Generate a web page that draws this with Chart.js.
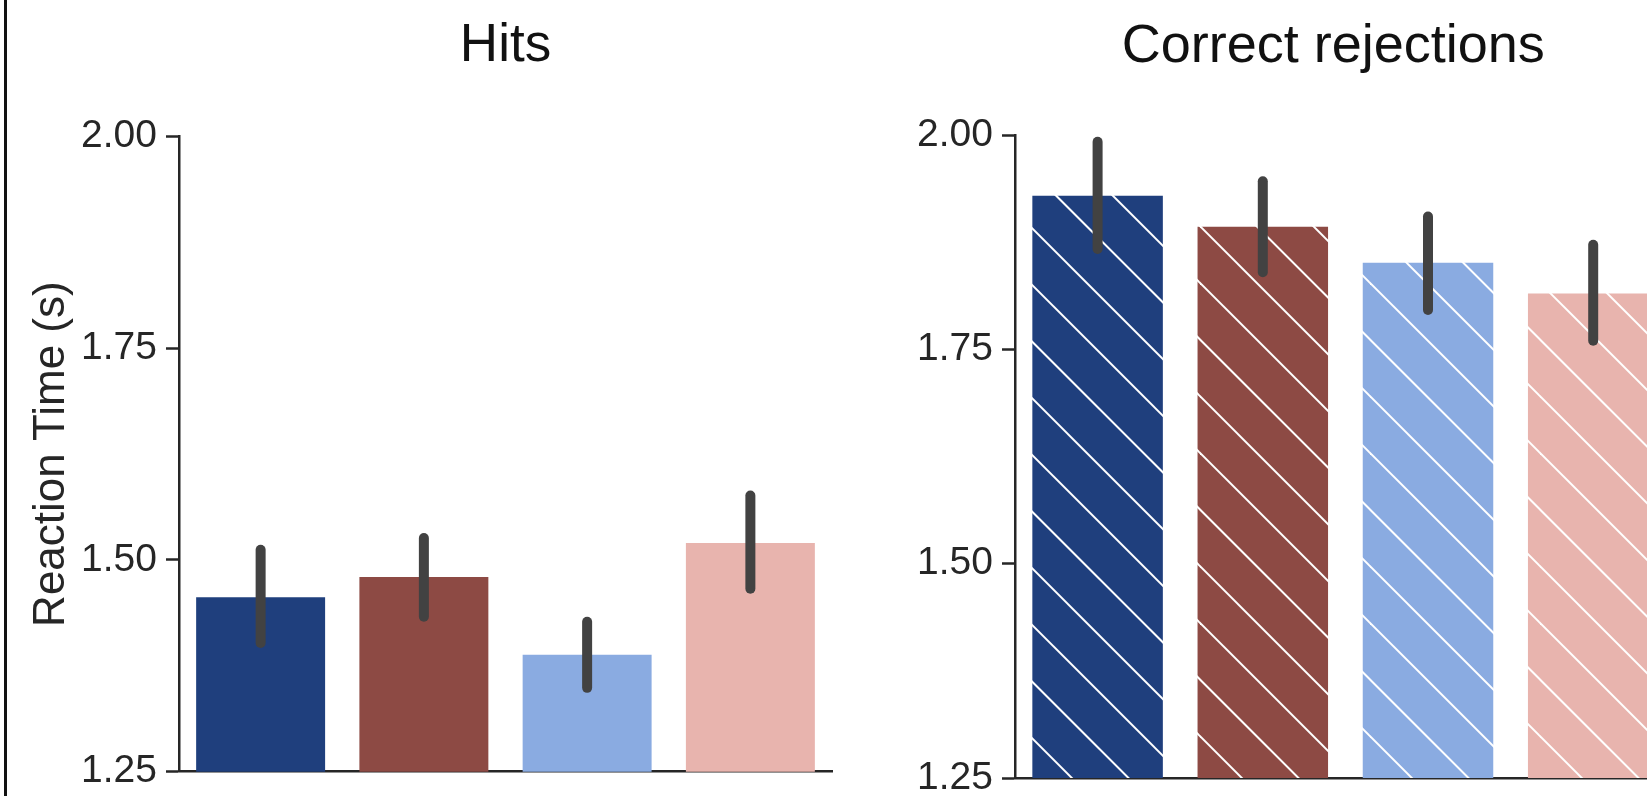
<!DOCTYPE html>
<html>
<head>
<meta charset="utf-8">
<script src="https://cdn.jsdelivr.net/npm/chart.js@4/dist/chart.umd.min.js"></script>
<style>
  html, body { margin: 0; padding: 0; background: #fff; overflow: hidden; width: 1647px; height: 796px; }
  #frame { position: absolute; left: 4px; top: 0; width: 3px; height: 796px; background: #111; }
  #hits { position: absolute; left: 0; top: 0; }
  #cr { position: absolute; left: 860px; top: 0; }
</style>
</head>
<body>
<div id="frame"></div>
<canvas id="hits" width="860" height="840"></canvas>
<canvas id="cr" width="960" height="840"></canvas>
<script>
// ---- data ----
const conditions = ['Condition 1', 'Condition 2', 'Condition 3', 'Condition 4'];
const barColors = ['#1f3f7d', '#8d4a44', '#8aabe1', '#e8b4ae'];
const yTicks = [1.25, 1.50, 1.75, 2.00];

// Hits: mean reaction time and error-bar bounds (s)
const hitsRT = [1.456, 1.480, 1.388, 1.520];
const hitsLo = [1.402, 1.433, 1.349, 1.466];
const hitsHi = [1.512, 1.526, 1.427, 1.576];

// Correct rejections: mean reaction time and error-bar bounds (s)
const crRT = [1.929, 1.893, 1.851, 1.815];
const crLo = [1.867, 1.840, 1.796, 1.760];
const crHi = [1.992, 1.946, 1.905, 1.872];

// ---- styling ----
const FONT = "'Liberation Sans', Arial, Helvetica, sans-serif";
const INK = '#262626';
const HATCH_PERIOD = 170 / 3;

// Diagonal "\\" hatch fill, phase-locked to page coordinates
function hatchFill(color, canvasLeft) {
  const tile = document.createElement('canvas');
  tile.width = tile.height = 170;
  const t = tile.getContext('2d');
  t.fillStyle = color;
  t.fillRect(0, 0, 170, 170);
  t.strokeStyle = '#ffffff';
  t.lineWidth = 2;
  const k = (((10.5 - canvasLeft) % HATCH_PERIOD) + HATCH_PERIOD) % HATCH_PERIOD;
  for (let n = -4; n <= 4; n++) {
    const off = k + n * HATCH_PERIOD;
    t.beginPath();
    t.moveTo(off - 20, -20);
    t.lineTo(off + 190, 190);
    t.stroke();
  }
  return t.createPattern(tile, 'repeat');
}

// Vertical error bars drawn through the chart's own scales
const errorBars = {
  id: 'errorBars',
  afterDatasetsDraw(chart, args, opts) {
    const meta = chart.getDatasetMeta(0);
    const y = chart.scales.y;
    const ctx = chart.ctx;
    ctx.save();
    ctx.strokeStyle = '#424242';
    ctx.lineWidth = 10;
    ctx.lineCap = 'round';
    meta.data.forEach((bar, i) => {
      ctx.beginPath();
      ctx.moveTo(bar.x, y.getPixelForValue(opts.lo[i]));
      ctx.lineTo(bar.x, y.getPixelForValue(opts.hi[i]));
      ctx.stroke();
    });
    ctx.restore();
  }
};

function makePanel(el, cfg) {
  const scales = {
    x: {
      type: 'category',
      offset: true,
      ticks: { display: false },
      grid: { display: false },
      border: { display: true, color: INK, width: 2.5 },
      afterFit(scale) { scale.height = cfg.xHeight; }
    },
    y: {
      type: 'linear',
      min: 1.25,
      max: 2.0,
      afterBuildTicks(scale) { scale.ticks = yTicks.map(v => ({ value: v })); },
      ticks: {
        color: INK,
        padding: 9,
        font: { family: FONT, size: 39 },
        callback: v => Number(v).toFixed(2)
      },
      grid: {
        display: true,
        drawOnChartArea: false,
        drawTicks: true,
        tickLength: 13,
        tickWidth: 2.5,
        tickColor: INK
      },
      border: { display: true, color: INK, width: 2.5 },
      title: {
        display: cfg.yTitle !== '',
        text: cfg.yTitle,
        color: INK,
        font: { family: FONT, size: 44, lineHeight: 1.2 },
        padding: { top: 25, bottom: 0 }
      },
      afterFit(scale) { scale.width = cfg.yWidth; }
    }
  };
  if (cfg.rightSpace) {
    // empty spacer on the right so the panel title sits over the plotted span
    scales.spacer = {
      type: 'linear',
      position: 'right',
      axis: 'y',
      ticks: { display: false },
      grid: { display: false },
      border: { display: false },
      afterFit(scale) { scale.width = cfg.rightSpace; }
    };
  }
  return new Chart(el, {
    type: 'bar',
    data: {
      labels: conditions,
      datasets: [{
        data: cfg.values,
        backgroundColor: cfg.fills,
        borderWidth: 0,
        barPercentage: 0.79,
        categoryPercentage: 1.0
      }]
    },
    options: {
      responsive: false,
      animation: false,
      devicePixelRatio: 1,
      layout: { padding: { left: 0, right: cfg.padRight, top: 0, bottom: 0 } },
      plugins: {
        legend: { display: false },
        tooltip: { enabled: false },
        title: {
          display: true,
          text: cfg.title,
          fullSize: cfg.titleFull,
          color: '#111',
          font: { family: FONT, size: cfg.titleSize, weight: 'normal', lineHeight: 1.2 },
          padding: { top: cfg.titleTop, bottom: cfg.titleGap }
        },
        errorBars: { lo: cfg.lo, hi: cfg.hi }
      },
      scales
    },
    plugins: [errorBars]
  });
}

makePanel(document.getElementById('hits'), {
  title: 'Hits',
  yTitle: 'Reaction Time (s)',
  values: hitsRT, lo: hitsLo, hi: hitsHi,
  fills: barColors,
  yWidth: 179, padRight: 28, xHeight: 68.3,
  titleFull: false, titleSize: 53, titleTop: 14.8, titleGap: 58.1
});

const crLeft = 860;
makePanel(document.getElementById('cr'), {
  title: 'Correct rejections',
  yTitle: '',
  values: crRT, lo: crLo, hi: crHi,
  fills: barColors.map(c => hatchFill(c, crLeft)),
  yWidth: 155, padRight: 13.4, rightSpace: 130.8, xHeight: 62,
  titleFull: true, titleSize: 54, titleTop: 14.6, titleGap: 55.6
});
</script>
</body>
</html>
